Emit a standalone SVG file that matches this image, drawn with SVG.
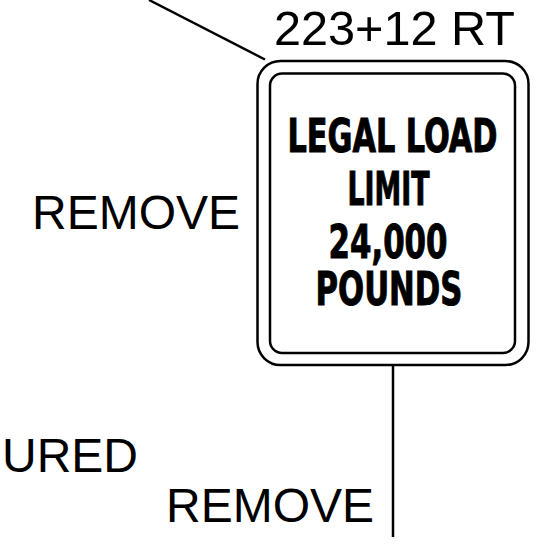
<svg xmlns="http://www.w3.org/2000/svg" width="537" height="550" viewBox="0 0 537 550">
<style>
.lbl{font-family:"Liberation Sans",Arial,sans-serif;font-size:48px;fill:#000}
.sg{font-family:"DejaVu Sans Condensed","DejaVu Sans",sans-serif;font-stretch:condensed;font-weight:bold;font-size:47px;fill:#000;stroke:#000;stroke-width:1;text-anchor:middle}
.ln{stroke:#000;fill:none;stroke-width:2.5}
</style>
<rect width="537" height="550" fill="#fff"/>
<g id="connectors">
<line class="ln" x1="149" y1="0" x2="265" y2="59.5" stroke-width="2"/>
<line class="ln" x1="393" y1="365" x2="393" y2="537" stroke-width="2.5"/>
</g>
<g id="sign">
<rect class="ln" x="257.5" y="61" width="271" height="304" rx="23"/>
<rect class="ln" x="270" y="73.5" width="245" height="279.5" rx="12"/>
<text class="sg" x="392.5" y="152" textLength="210" lengthAdjust="spacingAndGlyphs">LEGAL  LOAD</text>
<text class="sg" x="388.5" y="205" textLength="82" lengthAdjust="spacingAndGlyphs">LIMIT</text>
<text class="sg" x="388" y="258" textLength="119" lengthAdjust="spacingAndGlyphs">24,000</text>
<text class="sg" x="389" y="305" textLength="147" lengthAdjust="spacingAndGlyphs">POUNDS</text>
</g>
<g id="labels">
<text class="lbl" x="274" y="44.5" textLength="241" lengthAdjust="spacingAndGlyphs">223+12 RT</text>
<text class="lbl" x="32" y="229">REMOVE</text>
<text class="lbl" x="2" y="472">URED</text>
<text class="lbl" x="166" y="522">REMOVE</text>
</g>
</svg>
